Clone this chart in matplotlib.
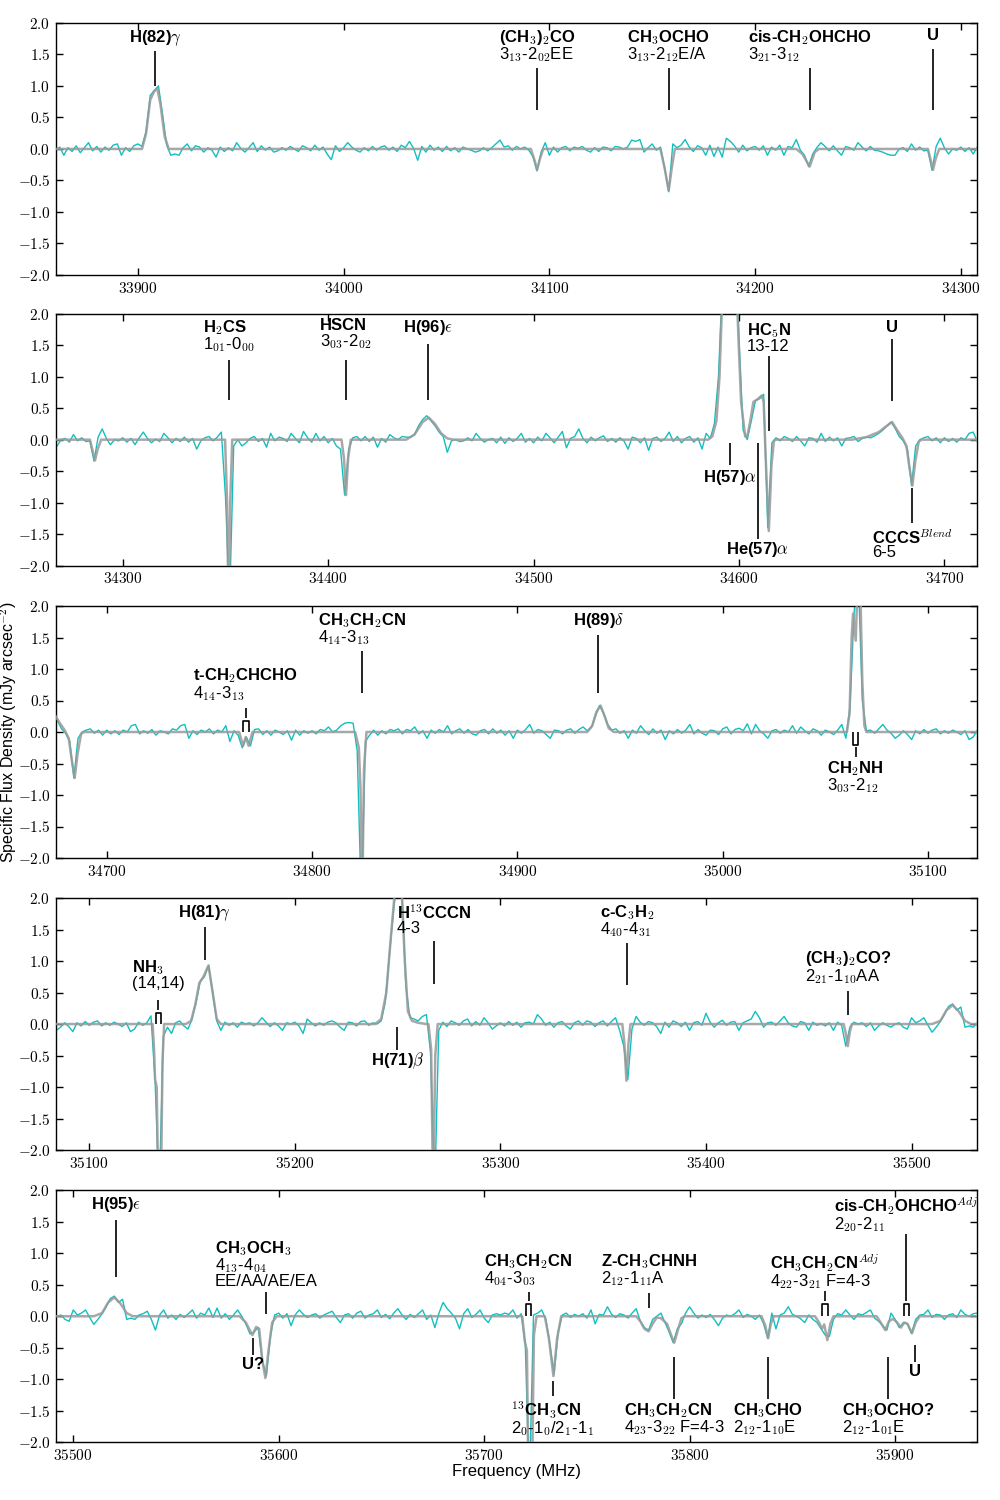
#!/usr/bin/env python3
import numpy as np
import matplotlib
matplotlib.use("Agg")
import matplotlib.pyplot as plt
from matplotlib.ticker import MultipleLocator, FuncFormatter
from matplotlib.offsetbox import TextArea, VPacker, AnnotationBbox

plt.rcParams['font.family'] = ['Liberation Sans', 'DejaVu Sans']
plt.rcParams['mathtext.fontset'] = 'cm'

# observed spectrum, 2 MHz channels starting at 33860 MHz (one row = 20 MHz)
CHAN0 = 33860.0
CHAN_STEP = 2.0

obs_1 = [  # 33860 - 34258
    -0.02, 0.03, -0.10, 0.02, -0.04, 0.05, -0.06, 0.02, 0.10, -0.03,   # 33860
    0.04, -0.05, 0.03, -0.02, 0.06, 0.08, -0.10, 0.02, -0.04, 0.05,    # 33880
    0.08, 0.04, 0.28, 0.85, 0.93, 1.00, 0.55, 0.06, -0.10, -0.08,      # 33900
    -0.10, 0.02, 0.08, -0.03, 0.05, 0.03, -0.05, 0.02, -0.02, -0.13,   # 33920
    0.03, -0.04, 0.02, -0.03, 0.10, 0.01, -0.05, 0.02, 0.10, -0.04,    # 33940
    0.05, -0.02, 0.03, -0.05, -0.03, 0.02, -0.02, 0.04, 0.00, -0.04,   # 33960
    0.05, 0.02, -0.03, 0.06, -0.02, 0.03, -0.08, -0.17, 0.05, -0.04,   # 33980
    0.02, 0.10, 0.03, -0.02, -0.05, 0.02, -0.03, 0.04, -0.02, 0.03,    # 34000
    0.05, -0.02, 0.03, -0.04, 0.06, 0.02, 0.12, 0.01, -0.18, 0.04,     # 34020
    -0.05, 0.06, -0.02, 0.03, -0.04, 0.04, -0.03, 0.02, -0.05, 0.03,   # 34040
    0.00, -0.02, -0.05, -0.03, 0.02, -0.03, 0.02, 0.08, 0.14, 0.03,    # 34060
    0.05, -0.02, 0.04, 0.00, 0.03, -0.02, -0.12, -0.35, -0.05, 0.10,   # 34080
    -0.10, 0.03, -0.05, 0.02, 0.04, -0.03, 0.03, 0.01, 0.04, -0.02,    # 34100
    -0.05, 0.02, -0.04, 0.03, 0.02, -0.03, 0.04, 0.03, 0.00, 0.03,     # 34120
    0.14, 0.12, 0.15, -0.05, 0.02, 0.08, -0.02, 0.03, -0.30, -0.68,    # 34140
    0.08, 0.02, 0.06, 0.15, 0.03, -0.04, 0.05, 0.02, -0.10, 0.06,      # 34160
    -0.12, 0.03, -0.13, 0.17, 0.12, 0.05, -0.05, 0.06, -0.03, 0.02,    # 34180
    0.04, -0.02, 0.05, -0.10, 0.03, -0.02, 0.06, -0.10, 0.04, 0.02,    # 34200
    0.15, -0.02, -0.10, -0.28, -0.08, 0.02, 0.10, 0.04, -0.03, 0.05,   # 34220
    -0.03, -0.10, 0.04, 0.02, -0.02, 0.10, 0.03, -0.03, 0.04, -0.02,   # 34240
]
obs_2 = [  # 34260 - 34658
    -0.03, -0.05, -0.08, -0.10, -0.10, 0.00, 0.02, -0.04, 0.08, -0.02, # 34260
    0.03, -0.03, -0.02, -0.34, 0.04, 0.17, 0.02, -0.08, 0.00, -0.02,   # 34280
    0.03, -0.04, 0.02, -0.08, 0.03, 0.12, 0.02, -0.05, 0.01, -0.03,    # 34300
    0.10, 0.03, -0.05, 0.02, -0.03, 0.04, -0.04, 0.02, -0.15, -0.02,   # 34320
    0.03, 0.05, -0.02, 0.04, 0.12, -0.90, -2.60, -0.10, 0.00, -0.10,   # 34340
    -0.05, 0.02, 0.05, -0.03, 0.02, -0.12, 0.10, -0.02, 0.04, 0.02,    # 34360
    -0.03, 0.10, 0.02, -0.05, 0.13, 0.03, -0.04, 0.10, -0.02, 0.05,    # 34380
    -0.05, 0.02, -0.10, -0.15, -0.88, -0.15, 0.03, 0.05, -0.02, 0.05,  # 34400
    -0.03, 0.04, -0.12, 0.02, -0.04, 0.08, 0.03, 0.00, 0.05, 0.04,     # 34420
    0.04, 0.08, 0.22, 0.32, 0.38, 0.30, 0.22, 0.12, 0.05, -0.20,       # 34440
    -0.02, 0.00, -0.03, -0.02, 0.03, -0.02, 0.10, 0.02, -0.04, 0.00,   # 34460
    0.02, -0.05, 0.04, -0.06, 0.03, -0.03, 0.02, 0.10, -0.04, 0.02,    # 34480
    -0.05, 0.04, -0.02, 0.10, 0.03, -0.05, 0.04, 0.13, -0.13, 0.02,    # 34500
    0.05, 0.17, 0.02, -0.05, 0.04, -0.02, 0.03, 0.06, -0.03, 0.02,     # 34520
    -0.04, 0.03, -0.02, -0.15, 0.04, 0.02, -0.05, 0.03, -0.17, 0.02,   # 34540
    0.04, -0.03, 0.02, 0.12, -0.03, 0.05, -0.05, 0.02, 0.05, -0.04,    # 34560
    0.03, -0.15, 0.10, 0.02, 0.25, 1.00, 2.60, 4.00, 4.30, 3.40,       # 34580
    1.60, 0.15, 0.00, 0.30, 0.62, 0.65, 0.72, -1.40, -0.05, 0.03,      # 34600
    -0.02, 0.05, 0.02, -0.03, 0.05, -0.02, -0.10, 0.03, 0.02, -0.04,   # 34620
    0.10, -0.03, 0.04, -0.02, 0.03, -0.10, 0.02, 0.03, 0.05, -0.03,    # 34640
]
obs_3 = [  # 34660 - 35058
    0.02, 0.04, 0.03, 0.06, 0.10, 0.15, 0.22, 0.28, 0.18, 0.05,       # 34660
    -0.02, -0.15, -0.73, -0.10, 0.00, 0.03, 0.05, -0.02, 0.03, -0.05,  # 34680
    0.03, -0.03, 0.02, -0.04, 0.03, 0.00, 0.10, 0.12, -0.03, 0.02,     # 34700
    -0.02, 0.04, -0.05, 0.02, 0.00, -0.03, 0.05, 0.03, 0.10, 0.12,     # 34720
    -0.10, 0.02, -0.04, 0.03, 0.00, 0.05, -0.03, 0.03, 0.00, 0.10,     # 34740
    -0.15, 0.02, -0.05, -0.25, -0.08, -0.22, 0.04, 0.05, -0.04, 0.02,  # 34760
    -0.05, 0.03, 0.00, -0.04, 0.02, -0.13, 0.03, -0.05, 0.02, -0.02,   # 34780
    0.02, -0.03, 0.04, 0.02, 0.08, 0.00, 0.03, 0.10, 0.14, 0.15,       # 34800
    0.14, -0.30, -2.70, -0.15, -0.05, 0.03, -0.05, 0.02, -0.03, 0.04,  # 34820
    0.02, 0.05, -0.03, 0.04, 0.02, 0.08, -0.03, 0.02, -0.10, 0.03,     # 34840
    -0.02, 0.04, 0.00, 0.10, -0.03, 0.02, 0.05, -0.02, 0.04, -0.03,    # 34860
    -0.05, 0.02, 0.04, -0.03, 0.05, -0.02, 0.03, -0.05, 0.02, -0.10,   # 34880
    0.03, -0.02, 0.04, 0.12, -0.02, 0.04, 0.02, -0.04, -0.10, 0.03,    # 34900
    0.02, -0.03, 0.03, 0.05, -0.02, 0.04, 0.08, 0.02, 0.07, 0.25,      # 34920
    0.42, 0.30, 0.12, 0.03, 0.05, -0.02, 0.02, -0.10, 0.03, -0.02,     # 34940
    0.10, 0.02, -0.04, 0.05, -0.02, 0.03, -0.12, 0.02, -0.03, 0.04,    # 34960
    -0.02, 0.03, 0.12, -0.03, 0.04, -0.02, -0.05, 0.03, 0.02, -0.04,   # 34980
    0.05, 0.08, -0.03, 0.04, 0.06, 0.02, 0.13, -0.03, 0.12, 0.02,      # 35000
    -0.03, -0.10, 0.02, 0.04, -0.02, 0.03, 0.00, 0.10, -0.02, 0.08,    # 35020
    0.02, -0.03, 0.05, 0.02, -0.05, 0.03, 0.00, -0.04, 0.03, 0.12,     # 35040
]
obs_4 = [  # 35060 - 35458
    -0.10, 0.40, 1.90, 2.50, 0.50, 0.02, 0.03, -0.02, 0.05, 0.12,      # 35060
    0.03, -0.02, -0.10, -0.05, 0.02, -0.04, -0.12, 0.02, -0.03, 0.04,  # 35080
    -0.02, 0.03, 0.05, -0.03, 0.02, -0.02, 0.03, 0.00, -0.04, 0.02,    # 35100
    -0.12, -0.08, 0.03, -0.02, 0.02, 0.13, -0.90, -2.70, -0.20, -0.05, # 35120
    -0.15, 0.02, 0.05, -0.03, -0.08, 0.08, 0.35, 0.68, 0.75, 0.93,     # 35140
    0.50, 0.05, -0.10, 0.03, -0.02, 0.02, -0.05, 0.03, 0.00, 0.02,     # 35160
    -0.03, 0.02, 0.10, 0.03, -0.04, 0.02, -0.03, -0.10, 0.02, 0.00,    # 35180
    0.03, -0.03, -0.15, 0.08, 0.02, -0.03, 0.02, -0.02, 0.03, 0.05,    # 35200
    0.02, -0.05, -0.10, 0.03, 0.02, -0.03, 0.04, 0.05, -0.02, 0.02,    # 35220
    0.00, 0.05, 0.35, 1.10, 1.80, 2.40, 2.20, 0.60, 0.10, 0.08,        # 35240
    0.05, 0.12, 0.15, -0.45, -2.70, -0.10, 0.03, -0.04, 0.05, 0.02,    # 35260
    -0.02, 0.05, 0.08, -0.03, 0.04, -0.02, 0.10, 0.02, -0.08, -0.03,   # 35280
    0.02, -0.03, 0.04, -0.02, 0.03, -0.05, 0.02, 0.03, 0.00, 0.15,     # 35300
    0.08, -0.02, 0.03, -0.05, 0.02, 0.04, -0.03, -0.08, 0.02, 0.05,    # 35320
    -0.02, 0.05, 0.03, -0.04, 0.02, 0.05, -0.03, 0.04, 0.10, -0.10,    # 35340
    -0.35, -0.88, -0.08, 0.12, 0.03, -0.02, 0.04, 0.02, -0.04, -0.15,  # 35360
    0.03, -0.05, 0.05, 0.02, -0.04, 0.03, -0.10, 0.02, 0.04, -0.02,    # 35380
    0.17, 0.03, -0.05, 0.02, 0.06, -0.02, 0.03, 0.04, -0.10, 0.02,     # 35400
    0.05, 0.08, 0.20, 0.10, -0.05, 0.02, 0.03, -0.02, 0.05, 0.12,      # 35420
    0.02, -0.03, -0.05, 0.04, 0.02, -0.10, 0.03, -0.02, 0.01, -0.03,   # 35440
]
obs_5 = [  # 35460 - 35940
    0.02, -0.10, 0.03, -0.02, -0.35, -0.05, 0.03, 0.00, 0.02, -0.04,   # 35460
    0.02, -0.10, -0.03, 0.02, -0.02, -0.05, 0.00, 0.02, -0.05, -0.08,  # 35480
    0.10, 0.02, 0.05, 0.10, -0.02, -0.13, -0.05, 0.04, 0.15, 0.28,     # 35500
    0.32, 0.22, 0.27, -0.05, -0.03, -0.05, 0.02, 0.04, 0.08, -0.05,    # 35520
    -0.22, 0.02, 0.10, -0.03, 0.02, -0.05, 0.03, -0.02, 0.04, 0.10,    # 35540
    -0.03, 0.05, 0.02, 0.13, -0.02, 0.13, -0.03, 0.04, -0.05, 0.02,    # 35560
    0.10, 0.00, -0.12, -0.28, -0.25, -0.18, -0.70, -0.95, -0.30, 0.02, # 35580
    0.05, -0.03, 0.04, -0.15, 0.02, 0.10, 0.03, -0.02, 0.02, 0.04,     # 35600
    -0.03, 0.02, 0.05, 0.08, -0.02, -0.10, 0.02, 0.04, -0.03, 0.05,    # 35620
    0.08, -0.03, 0.02, 0.04, 0.10, -0.02, 0.03, -0.04, 0.05, 0.12,     # 35640
    0.02, -0.05, 0.03, -0.02, 0.04, 0.10, -0.05, 0.02, -0.18, 0.05,    # 35660
    0.22, 0.12, 0.05, -0.03, -0.20, 0.04, 0.12, -0.02, 0.03, 0.10,     # 35680
    -0.03, -0.10, 0.02, 0.04, 0.02, 0.05, 0.03, 0.10, -0.03, 0.04,     # 35700
    -0.45, -2.70, 0.02, 0.05, 0.10, -0.05, -0.45, -0.92, -0.25, 0.02,  # 35720
    0.05, -0.02, 0.03, 0.00, 0.04, -0.03, 0.10, -0.12, 0.03, 0.02,     # 35740
    0.15, 0.03, -0.02, 0.04, 0.02, -0.03, 0.05, 0.12, -0.08, -0.18,    # 35760
    -0.22, -0.05, 0.00, 0.05, -0.10, -0.25, -0.42, -0.20, -0.12, 0.05, # 35780
    0.15, 0.05, -0.03, 0.02, -0.02, 0.03, -0.05, -0.15, -0.03, 0.02,   # 35800
    0.00, 0.04, 0.10, -0.02, 0.03, 0.00, -0.05, 0.02, -0.12, -0.35,    # 35820
    0.05, -0.20, 0.02, 0.05, 0.15, 0.03, 0.00, -0.04, -0.10, 0.02,     # 35840
    -0.05, -0.10, -0.20, -0.30, -0.32, -0.05, 0.04, 0.02, 0.10, 0.02,  # 35860
    -0.05, 0.04, 0.02, 0.06, 0.10, -0.03, -0.08, -0.15, -0.22, 0.05,   # 35880
    -0.05, -0.18, -0.10, -0.12, -0.27, -0.05, 0.02, 0.03, 0.10, -0.02, # 35900
    0.03, 0.02, -0.05, 0.02, 0.04, -0.02, 0.10, 0.03, 0.00, 0.04,      # 35920
    0.05,                                                              # 35940
]

# model spectrum: points at the fitted lines, zero in between
model_f_1 = [33860, 33902, 33904, 33906, 33908, 33909.5, 33911, 33913, 33915,
             34091, 34093, 34094, 34095.5, 34097,
             34154, 34156, 34158, 34159.5, 34161,
             34220, 34223, 34226.5, 34229, 34231,
             34284, 34285.5, 34286.5, 34287.8, 34289.5]
model_v_1 = [0, 0, 0.25, 0.78, 0.92, 0.95, 0.7, 0.2, 0,
             0, -0.2, -0.33, -0.15, 0,
             0, -0.3, -0.66, -0.3, 0,
             0, -0.08, -0.28, -0.05, 0,
             0, -0.2, -0.33, -0.15, 0]
model_f_2 = [34349.8, 34350.8, 34351.5, 34352.3, 34353.3,
             34406.5, 34407.7, 34408.7, 34409.7, 34411,
             34438, 34442, 34446, 34449, 34452, 34455, 34458, 34461,
             34585, 34587, 34589, 34590.5, 34592, 34594, 34596, 34598, 34599.5,
             34601, 34603, 34604, 34605.5, 34607, 34609, 34611, 34612, 34613,
             34614.5, 34615.8, 34617, 34618,
             34655, 34662, 34668, 34672, 34674.5, 34677, 34679.5, 34681.5,
             34683, 34684.4, 34685.8, 34687.5, 34689]
model_v_2 = [0, -1.0, -2.8, -1.0, 0,
             0, -0.3, -0.88, -0.3, 0,
             0, 0.08, 0.28, 0.35, 0.25, 0.1, 0.02, 0,
             0, 0.05, 0.3, 1.0, 2.4, 3.8, 4.2, 3.3, 1.8,
             0.6, 0.05, 0.05, 0.3, 0.6, 0.64, 0.7, 0.6, -0.3,
             -1.45, -0.4, -0.02, 0,
             0, 0.04, 0.12, 0.22, 0.28, 0.15, 0.03, -0.1,
             -0.45, -0.73, -0.35, -0.03, 0]
model_f_3 = [34764.5, 34766.4, 34767.7, 34769.1, 34771,
             34821, 34822.8, 34823.6, 34824.4, 34825.3, 34826.5,
             34934, 34936.5, 34938.5, 34940.5, 34942.5, 34944.5, 34947,
             35060.5, 35061.8, 35062.8, 35063.5, 35064.8, 35065.8, 35067, 35068, 35069, 35070]
model_v_3 = [0, -0.22, -0.08, -0.22, 0,
             0, -0.25, -0.9, -2.8, -0.6, 0,
             0, 0.1, 0.32, 0.42, 0.25, 0.06, 0,
             0, 0.3, 1.5, 1.88, 1.45, 2.5, 2.3, 0.8, 0.1, 0]
model_f_4 = [35130.8, 35131.5, 35132, 35132.8, 35133.6, 35134.8, 35135.6, 35136.4,
             35147, 35149.5, 35151.5, 35153.5, 35155.5, 35158, 35160, 35162, 35164,
             35239, 35242, 35244.5, 35246.5, 35248.5, 35250, 35252, 35253.5, 35255,
             35257, 35260, 35264,
             35265, 35266.3, 35267.3, 35268.3, 35269.5,
             35359.3, 35360.3, 35361.3, 35362.3, 35363.3,
             35467, 35468, 35469, 35470, 35471]
model_v_4 = [0, -0.4, -0.88, -1.0, -2.8, -2.8, -0.6, 0,
             0, 0.05, 0.3, 0.65, 0.75, 0.93, 0.5, 0.08, 0,
             0, 0.08, 0.5, 1.3, 2.05, 2.4, 2.1, 1.0, 0.2,
             0.05, 0.02, 0,
             0, -0.4, -2.8, -0.5, 0,
             0, -0.3, -0.9, -0.3, 0,
             0, -0.15, -0.35, -0.12, 0]
model_f_5 = [35510, 35514, 35517, 35520, 35523, 35526, 35529,
             35581, 35584, 35587.2, 35589, 35590.5, 35592, 35593.5, 35595, 35596.8, 35599,
             35718.5, 35719.8, 35720.8, 35721.6, 35723.2, 35724.2, 35725.5,
             35729.5, 35731.5, 35733.7, 35735.5, 35737.5,
             35774, 35776, 35778, 35780, 35782, 35784, 35786, 35789, 35791, 35792.5,
             35794, 35796, 35797.5,
             35835, 35836.8, 35838.2, 35839.5, 35841,
             35861, 35863, 35864.4, 35865.5, 35867, 35868.5, 35870,
             35891, 35893, 35895.2, 35897, 35899, 35901, 35902.8, 35904.5, 35906,
             35908.2, 35910, 35912,
             35940]
model_v_5 = [0, 0.05, 0.22, 0.3, 0.2, 0.05, 0,
             0, -0.1, -0.3, -0.17, -0.2, -0.7, -0.98, -0.55, -0.1, 0,
             0, -0.4, -0.55, -2.8, -2.8, -0.3, 0,
             0, -0.35, -0.95, -0.35, 0,
             0, -0.08, -0.2, -0.24, -0.12, -0.02, -0.03, -0.12, -0.3, -0.42,
             -0.25, -0.03, 0,
             0, -0.15, -0.35, -0.12, 0,
             0, -0.1, -0.2, -0.13, -0.38, -0.12, 0,
             0, -0.1, -0.22, -0.08, -0.04, -0.1, -0.18, -0.1, -0.12,
             -0.27, -0.1, 0,
             0]

# frequency window of each panel (MHz)
panel_lo = [33860.2, 34267.5, 34675.3, 35083.8, 35491.6]
panel_hi = [34308.0, 34716.0, 35124.0, 35532.0, 35940.0]

# line identifications: freq (or pair for doublets), tick span, label y, name, sublines
ids_1 = [
    (33908.5, (1.00, 1.55), 1.77, r'H(82)$\gamma$', []),
    (34094.0, (0.62, 1.28), 1.77, r'(CH$_3$)$_2$CO', [r'3$_{13}$-2$_{02}$EE']),
    (34158.0, (0.62, 1.28), 1.77, r'CH$_3$OCHO', [r'3$_{13}$-2$_{12}$E/A']),
    (34226.5, (0.62, 1.28), 1.77, r'cis-CH$_2$OHCHO', [r'3$_{21}$-3$_{12}$']),
    (34286.7, (0.62, 1.58), 1.77, 'U', []),
]
ids_2 = [
    (34351.5, (0.63, 1.27), 1.78, r'H$_2$CS', [r'1$_{01}$-0$_{00}$']),
    (34408.6, (0.63, 1.27), 1.78, 'HSCN', [r'3$_{03}$-2$_{02}$']),
    (34448.7, (0.63, 1.52), 1.78, r'H(96)$\epsilon$', []),
    (34614.7, (0.14, 1.33), 1.73, r'HC$_5$N', ['13-12']),
    (34674.4, (0.62, 1.59), 1.75, 'U', []),
    (34595.4, (-0.05, -0.41), -0.60, r'H(57)$\alpha$', []),
    (34609.2, (-0.05, -1.57), -1.75, r'He(57)$\alpha$', []),
    (34684.4, (-0.77, -1.33), -1.54, r'CCCS$^{Blend}$', ['6-5']),
]
ids_3 = [
    ((34766.4, 34769.1), (0.22, 0.38), 0.89, r't-CH$_2$CHCHO', [r'4$_{14}$-3$_{13}$']),
    (34824.4, (0.62, 1.28), 1.77, r'CH$_3$CH$_2$CN', [r'4$_{14}$-3$_{13}$']),
    (34939.3, (0.62, 1.54), 1.77, r'H(89)$\delta$', []),
    ((35063.7, 35065.9), (-0.24, -0.40), -0.58, r'CH$_2$NH', [r'3$_{03}$-2$_{12}$']),
]
ids_4 = [
    ((35132.3, 35134.9), (0.22, 0.38), 0.89, r'NH$_3$', ['(14,14)']),
    (35156.2, (1.02, 1.54), 1.77, r'H(81)$\gamma$', []),
    (35249.8, (-0.05, -0.41), -0.57, r'H(71)$\beta$', []),
    (35267.6, (0.64, 1.32), 1.76, r'H$^{13}$CCCN', ['4-3']),
    (35361.6, (0.62, 1.28), 1.77, r'c-C$_3$H$_2$', [r'4$_{40}$-4$_{31}$']),
    (35469.1, (0.14, 0.52), 1.04, r'(CH$_3$)$_2$CO?', [r'2$_{21}$-1$_{10}$AA']),
]
ids_5 = [
    (35520.9, (0.63, 1.53), 1.77, r'H(95)$\epsilon$', []),
    (35593.9, (0.03, 0.38), 1.08, r'CH$_3$OCH$_3$', [r'4$_{13}$-4$_{04}$', 'EE/AA/AE/EA']),
    (35587.4, (-0.34, -0.62), -0.79, 'U?', []),
    ((35720.4, 35722.8), (0.24, 0.38), 0.87, r'CH$_3$CH$_2$CN', [r'4$_{04}$-3$_{03}$']),
    (35733.5, (-1.03, -1.26), -1.47, r'$^{13}$CH$_3$CN', [r'2$_0$-1$_0$/2$_1$-1$_1$']),
    (35780.2, (0.13, 0.37), 0.87, r'Z-CH$_3$CHNH', [r'2$_{12}$-1$_{11}$A']),
    (35792.5, (-0.65, -1.31), -1.49, r'CH$_3$CH$_2$CN', [r'4$_{23}$-3$_{22}$ F=4-3']),
    (35838.1, (-0.65, -1.31), -1.49, r'CH$_3$CHO', [r'2$_{12}$-1$_{10}$E']),
    ((35864.4, 35867.2), (0.24, 0.40), 0.88, r'CH$_3$CH$_2$CN$^{Adj}$', [r'4$_{22}$-3$_{21}$ F=4-3']),
    (35896.6, (-0.65, -1.31), -1.49, r'CH$_3$OCHO?', [r'2$_{12}$-1$_{01}$E']),
    ((35904.2, 35906.7), (0.24, 1.30), 1.78, r'cis-CH$_2$OHCHO$^{Adj}$', [r'2$_{20}$-2$_{11}$']),
    (35909.8, (-0.45, -0.73), -0.90, 'U', []),
]
panel_ids = [ids_1, ids_2, ids_3, ids_4, ids_5]


def add_label(ax, f, y_name, name, sublines):
    """bold species name with transition lines below, left aligned block"""
    areas = [TextArea(name, textprops=dict(fontsize=12, fontweight='bold'))]
    for s in sublines:
        areas.append(TextArea(s, textprops=dict(fontsize=12)))
    box = VPacker(children=areas, align='left', pad=0, sep=-1)
    ab = AnnotationBbox(box, (f, y_name + 0.15), xycoords='data',
                        box_alignment=(0.5, 1.0), frameon=False, pad=0,
                        annotation_clip=False)
    ax.add_artist(ab)


def add_id(ax, item):
    f, (y0, y1), y_name, name, sublines = item
    kw = dict(color='k', lw=1.2, solid_capstyle='butt')
    if isinstance(f, tuple):
        # doublet bracket sitting on the baseline
        f1, f2 = f
        sign = 1 if y0 > 0 else -1
        top = sign * (abs(y0) - 0.04)
        ax.plot([f1, f1, f2, f2], [0.0, top, top, 0.0], **kw)
        fc = 0.5 * (f1 + f2)
    else:
        fc = f
    ax.plot([fc, fc], [y0, y1], **kw)
    add_label(ax, fc, y_name, name, sublines)


obs = np.array(obs_1 + obs_2 + obs_3 + obs_4 + obs_5)
assert len(obs_1) == 200 and len(obs_2) == 200 and len(obs_3) == 200
assert len(obs_4) == 200 and len(obs_5) == 241
freq = CHAN0 + CHAN_STEP * np.arange(len(obs))
model_f = np.array(model_f_1 + model_f_2 + model_f_3 + model_f_4 + model_f_5)
model_v = np.array(model_v_1 + model_v_2 + model_v_3 + model_v_4 + model_v_5)

fig = plt.figure(figsize=(10, 15), dpi=100)
bottoms = [0.8167, 0.6229, 0.4280, 0.2333, 0.0385]
for i in range(5):
    ax = fig.add_axes([0.056, bottoms[i], 0.9213, 0.168])
    ax.plot(freq, obs, color='#12bfc0', lw=1.0, zorder=2)
    ax.plot(model_f, model_v, color='#999999', lw=1.8, alpha=0.85, zorder=3)
    ax.set_xlim(panel_lo[i], panel_hi[i])
    ax.set_ylim(-2.0, 2.0)
    ax.xaxis.set_major_locator(MultipleLocator(100))
    ax.yaxis.set_major_locator(MultipleLocator(0.5))
    ax.xaxis.set_major_formatter(FuncFormatter(lambda v, p: r'$%d$' % v))
    ax.yaxis.set_major_formatter(FuncFormatter(lambda v, p: r'$%.1f$' % v))
    ax.tick_params(direction='in', top=True, right=True, length=5, width=1,
                   labelsize=11, pad=4)
    for sp in ax.spines.values():
        sp.set_linewidth(1.0)
    for item in panel_ids[i]:
        add_id(ax, item)
    if i == 4:
        ax.set_xlabel('Frequency (MHz)', fontsize=12, labelpad=1)

fig.text(0.0085, 0.512, r'Specific Flux Density (mJy arcsec$^{-2}$)',
         rotation=90, ha='center', va='center', fontsize=11.5)

fig.savefig('out.png', dpi=100)
